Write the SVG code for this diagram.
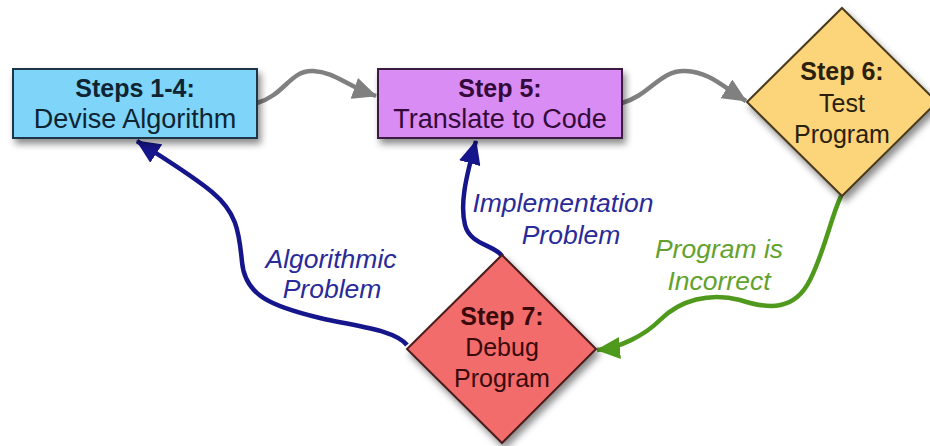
<svg xmlns="http://www.w3.org/2000/svg" width="930" height="446" viewBox="0 0 930 446">
<defs>
<filter id="sh" x="-20%" y="-20%" width="150%" height="160%">
<feDropShadow dx="3" dy="5" stdDeviation="3.5" flood-color="#000" flood-opacity="0.45"/>
</filter>
<marker id="ag" markerUnits="userSpaceOnUse" markerWidth="26" markerHeight="22" refX="23" refY="11" orient="auto"><path d="M0,0 L24,11 L0,22 z" fill="#808080"/></marker>
<marker id="ab" markerUnits="userSpaceOnUse" markerWidth="26" markerHeight="22" refX="23" refY="11" orient="auto"><path d="M0,0 L24,11 L0,22 z" fill="#16168c"/></marker>
<marker id="agr" markerUnits="userSpaceOnUse" markerWidth="26" markerHeight="22" refX="23" refY="11" orient="auto"><path d="M0,0 L24,11 L0,22 z" fill="#4f9a1c"/></marker>
</defs>
<style>
.t{font-family:"Liberation Sans",Arial,sans-serif;text-anchor:middle;font-size:25px}
.b{font-weight:bold}
.w{font-size:27px}
.lab{font-family:"Liberation Sans",Arial,sans-serif;text-anchor:middle;font-size:26.5px;font-style:italic}
.node{stroke-width:2;filter:url(#sh)}
.c{fill:none;stroke-width:4.5}
</style>
<rect width="930" height="446" fill="#fff"/>
<g id="connectors">
<path class="c" d="M257,103 C285,95 290,70 313,71 C335,72 345,85 376,96" stroke="#808080" marker-end="url(#ag)"/>
<path class="c" d="M622,103 C650,95 660,70 685,71 C710,72 722,86 746,101" stroke="#808080" marker-end="url(#ag)"/>
<path class="c" d="M407,345 C395,330 360,327 320,318 C270,306 245,295 242,262 C239,230 236,212 212,192 C190,174 160,156 137,141" stroke="#16168c" marker-end="url(#ab)"/>
<path class="c" d="M502,256 C495,245 470,245 465,225 C460,205 465,180 476,141" stroke="#16168c" marker-end="url(#ab)"/>
<path class="c" d="M841,196 C830,220 825,250 810,280 C795,310 770,310 740,300 C710,292 680,300 660,320 C645,335 620,348 597,350" stroke="#4f9a1c" marker-end="url(#agr)"/>
<text class="lab" x="331" y="268" fill="#2a2a98">Algorithmic</text>
<text class="lab" x="332" y="298" fill="#2a2a98">Problem</text>
<text class="lab" x="563" y="212" fill="#2a2a98">Implementation</text>
<text class="lab" x="571" y="244" fill="#2a2a98">Problem</text>
<text class="lab" x="719" y="258" fill="#62a22c">Program is</text>
<text class="lab" x="719" y="290" fill="#62a22c">Incorrect</text>
</g>
<g id="n1">
<rect class="node" x="13" y="69" width="244" height="69" fill="#7fd4f9" stroke="#1c3646"/>
<text class="t b" x="135" y="97" fill="#0e2432">Steps 1-4:</text>
<text class="t w" x="135" y="128" fill="#0e2432">Devise Algorithm</text>
</g>
<g id="n2">
<rect class="node" x="378" y="69" width="244" height="69" fill="#d98cf4" stroke="#3a1a40"/>
<text class="t b" x="500" y="97" fill="#330a3a">Step 5:</text>
<text class="t w" x="500" y="128" fill="#330a3a">Translate to Code</text>
</g>
<g id="n6">
<polygon class="node" points="842,8 937,102 842,196 747,102" fill="#fcd47a" stroke="#4a3a1e"/>
<text class="t b" x="842" y="80" fill="#2a200c">Step 6:</text>
<text class="t" x="842" y="112" fill="#2a200c">Test</text>
<text class="t" x="842" y="143" fill="#2a200c">Program</text>
</g>
<g id="n7">
<polygon class="node" points="502,255 596,349 502,443 407,349" fill="#f26c6c" stroke="#4a1e1e"/>
<text class="t b" x="502" y="325" fill="#3a0a0a">Step 7:</text>
<text class="t" x="502" y="356" fill="#3a0a0a">Debug</text>
<text class="t" x="502" y="387" fill="#3a0a0a">Program</text>
</g>
</svg>
